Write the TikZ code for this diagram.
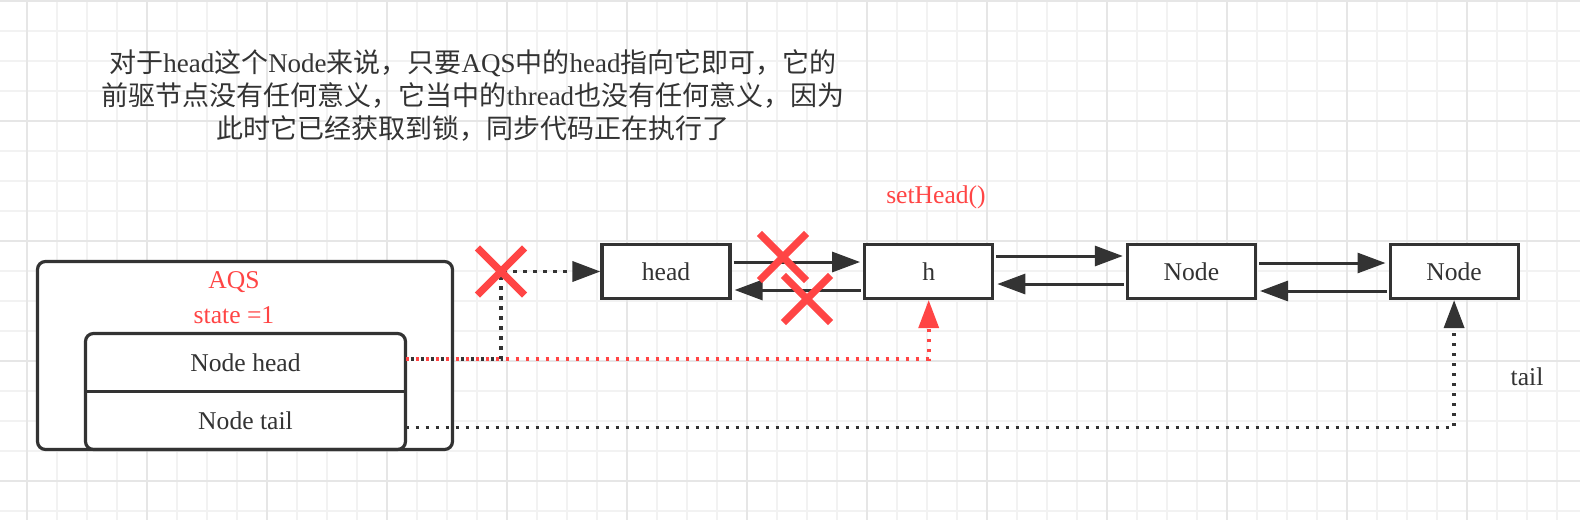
\documentclass[tikz,border=0pt]{standalone}
\usepackage{fontspec}
\setmainfont{Liberation Serif}
\newfontfamily\cjk{Noto Sans CJK SC}
\usetikzlibrary{positioning, arrows.meta, shapes.misc}
\definecolor{ink}{HTML}{333333}
\definecolor{alert}{HTML}{FF4545}
\definecolor{gridminor}{HTML}{F2F2F2}
\definecolor{gridmajor}{HTML}{E6E6E6}

\begin{document}
\begin{tikzpicture}[x=0.5pt, y=-0.5pt, >={Triangle[length=14pt,width=10pt]},
    font=\fontsize{12.8}{15}\selectfont, text=ink, node distance=65.75pt,
    qnode/.style={draw=ink, line width=1.6pt, fill=white, minimum width=64pt, minimum height=27pt, inner sep=0pt},
    aqsbox/.style={draw=ink, line width=1.6pt, fill=white, rounded corners=4pt, minimum width=207.5pt, minimum height=94pt},
    field/.style={minimum width=160pt, minimum height=29pt, inner sep=0pt, outer sep=0pt},
    link/.style={->, draw=ink, line width=1.5pt, shorten <=1pt, shorten >=1.5pt},
    ptr/.style={->, draw=ink, line width=1.8pt, dash pattern=on 1.8pt off 3.2pt},
    redptr/.style={ptr, draw=alert},
    xmark/.style={cross out, draw=alert, line width=3.6pt, minimum size=20pt, inner sep=0pt}]
  \useasboundingbox (0,0) rectangle (1580,520);
  % background grid
  \foreach \x in {27,57,...,1557} \draw[gridminor, line width=0.6pt] (\x,0) -- (\x,520);
  \foreach \y in {1,31,...,511} \draw[gridminor, line width=0.6pt] (0,\y) -- (1580,\y);
  \foreach \x in {27,147,...,1557} \draw[gridmajor, line width=0.7pt] (\x,0) -- (\x,520);
  \foreach \y in {1,121,...,481} \draw[gridmajor, line width=0.7pt] (0,\y) -- (1580,\y);

  \node[align=center, font=\fontsize{13.5}{16.5}\selectfont] (note) at (473,96)
    {{\cjk 对于}head{\cjk 这个}Node{\cjk 来说，只要}AQS{\cjk 中的}head{\cjk 指向它即可，它的}\\
     {\cjk 前驱节点没有任何意义，它当中的}thread{\cjk 也没有任何意义，因为}\\
     {\cjk 此时它已经获取到锁，同步代码正在执行了}};
  \node[text=alert] (sethead) at (936,197) {setHead()};
  \node (taillabel) at (1527,377) {tail};

  % the queue
  \node[qnode] (head) at (666,271.5) {head};
  \node[qnode, right=of head] (h) {h};
  \node[qnode, right=of h] (n1) {Node};
  \node[qnode, right=of n1] (n2) {Node};

  % AQS
  \node[aqsbox] (aqs) at (245,355.5) {};
  \node[text=alert] (aqsname) at (234,282) {AQS};
  \node[text=alert] (aqsstate) at (234,315) {state =1};
  \node[field] (aqshead) at (245.5,362.5) {Node head};
  \node[field, below=0pt of aqshead] (aqstail) {Node tail};
  \draw[ink, line width=1.6pt, rounded corners=4pt] (aqshead.north west) rectangle (aqstail.south east);
  \draw[ink, line width=1.6pt] (aqshead.south west) -- (aqshead.south east);

  \draw[link] ([yshift=4.75pt]head.east) -- ([yshift=4.75pt]h.west);
  \draw[link] ([yshift=-9.25pt]h.west) -- ([yshift=-9.25pt]head.east);
  \draw[link] ([yshift=7.75pt]h.east) -- ([yshift=7.75pt]n1.west);
  \draw[link] ([yshift=-6.25pt]n1.west) -- ([yshift=-6.25pt]h.east);
  \draw[link] ([yshift=4.25pt]n1.east) -- ([yshift=4.25pt]n2.west);
  \draw[link] ([yshift=-9.75pt]n2.west) -- ([yshift=-9.75pt]n1.east);

  \coordinate (cut) at (501,271.5);
  \draw[redptr] ([yshift=1.75pt]aqshead.east) -| (h.south);
  \draw[ptr, dash phase=2.5pt] ([yshift=1.75pt]aqshead.east) -| (cut) -- (head.west);
  \draw[ptr] ([yshift=-3.5pt]aqstail.east) -| (n2.south);

  % cut links
  \node[xmark] (x1) at (cut) {};
  \node[xmark] (x2) at (783,257) {};
  \node[xmark] (x3) at (807,299) {};
\end{tikzpicture}
\end{document}
